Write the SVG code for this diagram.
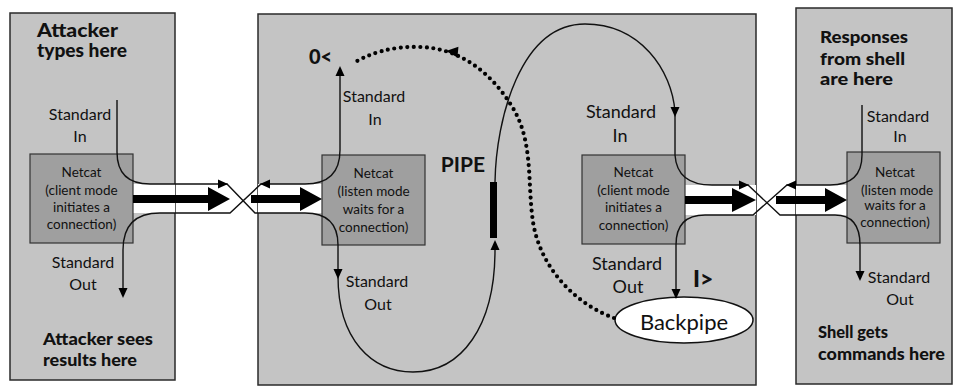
<svg xmlns="http://www.w3.org/2000/svg" xmlns:xlink="http://www.w3.org/1999/xlink" width="954" height="387" viewBox="0 0 954 387">
<style>
.panel{fill:#c4c4c4;stroke:#2a2a2a;stroke-width:1.5}
.box{fill:#9f9f9f;stroke:#333;stroke-width:1.2}
.band{fill:#ffffff;stroke:none}
.thick{fill:#000}
.ln{fill:none;stroke:#111;stroke-width:1.4}
.dot{fill:none;stroke:#000;stroke-width:4.2;stroke-linecap:round;stroke-dasharray:0 6.5}
.t{font-family:Lato,"Open Sans","Liberation Sans",sans-serif;fill:#111}
.lbl{font-size:16px}
.nc{font-size:13.5px;text-anchor:middle}
.big{font-size:18px}
.b{font-weight:900}
.m{text-anchor:middle}
</style>
<defs>
<path id="ah" d="M0,0 L-10,-4.5 L-10,4.5 Z" fill="#000"/>
</defs>

<g id="panel-left">
<rect class="panel" x="10" y="13" width="165" height="367"/>
<rect class="band" x="133" y="184" width="42" height="29"/>
</g>
<g id="panel-middle">
<rect class="panel" x="258" y="14" width="498" height="371"/>
<rect class="band" x="258" y="184" width="64" height="29"/>
<rect class="band" x="685" y="185" width="71" height="30"/>
</g>
<g id="panel-right">
<rect class="panel" x="796" y="8" width="156" height="376"/>
<rect class="band" x="796" y="185" width="51" height="30"/>
</g>

<g id="netcat-attacker">
<rect class="box" x="30" y="154" width="103" height="89"/>
<text class="t nc" x="81.5" y="177">Netcat</text>
<text class="t nc" x="81.5" y="195">(client mode</text>
<text class="t nc" x="81.5" y="212">initiates a</text>
<text class="t nc" x="81.5" y="229">connection)</text>
</g>
<g id="netcat-listen">
<rect class="box" x="322" y="155" width="103" height="90"/>
<text class="t nc" x="373.5" y="178">Netcat</text>
<text class="t nc" x="373.5" y="196">(listen mode</text>
<text class="t nc" x="373.5" y="214">waits for a</text>
<text class="t nc" x="373.5" y="232">connection)</text>
</g>
<g id="netcat-client">
<rect class="box" x="582" y="155" width="103" height="89"/>
<text class="t nc" x="633.5" y="177">Netcat</text>
<text class="t nc" x="633.5" y="195">(client mode</text>
<text class="t nc" x="633.5" y="212">initiates a</text>
<text class="t nc" x="633.5" y="230">connection)</text>
</g>
<g id="netcat-shell">
<rect class="box" x="847" y="152" width="93" height="91"/>
<text class="t nc" x="895" y="177">Netcat</text>
<text class="t nc" x="897" y="195">(listen mode</text>
<text class="t nc" x="895" y="210">waits for a</text>
<text class="t nc" x="895" y="227">connection)</text>
</g>
<g id="backpipe">
<ellipse cx="684" cy="320" rx="69" ry="23" fill="#fff" stroke="#111" stroke-width="1.5"/>
<text class="t m" x="684" y="330" font-size="22">Backpipe</text>
</g>

<g id="connectors">
<path class="thick" d="M133,195 H208 V187 L230,199 L208,211 V203 H133 Z"/>
<path class="thick" d="M251,195 H300 V187 L322,199 L300,211 V203 H251 Z"/>
<path class="thick" d="M685,196 H732 V188 L756,200 L732,212 V204 H685 Z"/>
<path class="thick" d="M776,196 H825 V188 L847,200 L825,212 V204 H776 Z"/>
<path class="ln" d="M117,100 V152 Q117,184 150,184 H227 L255,213 H305 Q338,213 338,245 V276"/>
<path class="ln" d="M338,276 C338,340 372,372 413,372 C462,372 495,326 495,250"/>
<rect x="490" y="182" width="7" height="56" fill="#000"/>
<path class="ln" d="M495,182 C496,120 520,24 585,24 C640,24 672,70 675,112 V155 Q677,185 712,185 H748 L780,215 H835 Q860,215 860,245 V278"/>
<path class="ln" d="M340,70 V150 Q340,184 305,184 H261 L230,213 H160 Q123,213 123,250 V295"/>
<path class="ln" d="M862,105 V155 Q862,185 830,185 H787 L753,215 H705 Q676,215 676,245 V296"/>
<path class="dot" d="M614,318 C580,306 541,272 533,222 C527,182 534,140 511,105 C491,73 460,48 420,47 C390,46 368,54 352,64"/>
<use xlink:href="#ah" transform="translate(228,184)"/>
<use xlink:href="#ah" transform="translate(260,184) rotate(180)"/>
<use xlink:href="#ah" transform="translate(338,279) rotate(90)"/>
<use xlink:href="#ah" transform="translate(123,298) rotate(90)"/>
<use xlink:href="#ah" transform="translate(340,66) rotate(-90)"/>
<use xlink:href="#ah" transform="translate(495,240) rotate(-90)"/>
<use xlink:href="#ah" transform="translate(675,117) rotate(90)"/>
<use xlink:href="#ah" transform="translate(749,185)"/>
<use xlink:href="#ah" transform="translate(786,185) rotate(180)"/>
<use xlink:href="#ah" transform="translate(860,281) rotate(90)"/>
<use xlink:href="#ah" transform="translate(676,299) rotate(90)"/>
<use xlink:href="#ah" transform="translate(446,51) rotate(185) scale(1.2)"/>
</g>

<g id="labels">
<text class="t b" x="37" y="37" font-size="18" textLength="81" lengthAdjust="spacingAndGlyphs">Attacker</text>
<text class="t b" x="37" y="57" font-size="18" textLength="90" lengthAdjust="spacingAndGlyphs">types here</text>
<text class="t lbl m" x="80" y="120">Standard</text>
<text class="t lbl m" x="80" y="142">In</text>
<text class="t lbl m" x="83" y="268">Standard</text>
<text class="t lbl m" x="83" y="290">Out</text>
<text class="t b" x="43" y="345" font-size="17" textLength="110" lengthAdjust="spacingAndGlyphs">Attacker sees</text>
<text class="t b" x="43" y="366" font-size="17" textLength="94" lengthAdjust="spacingAndGlyphs">results here</text>

<text class="t b" x="309" y="64" font-size="20">0&lt;</text>
<text class="t lbl m" x="374" y="102">Standard</text>
<text class="t lbl m" x="375" y="125">In</text>
<text class="t m" x="463" y="172" font-size="21" font-weight="bold">PIPE</text>
<text class="t lbl m" x="377" y="287">Standard</text>
<text class="t lbl m" x="378" y="310">Out</text>

<text class="t big m" x="621" y="118">Standard</text>
<text class="t big m" x="620" y="142">In</text>
<text class="t big m" x="627" y="270">Standard</text>
<text class="t big m" x="628" y="293">Out</text>
<text class="t b" x="693" y="287" font-size="23">I&gt;</text>

<text class="t b" x="820" y="43" font-size="17" textLength="88" lengthAdjust="spacingAndGlyphs">Responses</text>
<text class="t b" x="820" y="65" font-size="17" textLength="85" lengthAdjust="spacingAndGlyphs">from shell</text>
<text class="t b" x="820" y="85" font-size="17" textLength="73" lengthAdjust="spacingAndGlyphs">are here</text>
<text class="t lbl m" x="898" y="122">Standard</text>
<text class="t lbl m" x="900" y="142">In</text>
<text class="t lbl m" x="899" y="283">Standard</text>
<text class="t lbl m" x="900" y="305">Out</text>
<text class="t b" x="818" y="338" font-size="17" textLength="70" lengthAdjust="spacingAndGlyphs">Shell gets</text>
<text class="t b" x="818" y="360" font-size="17" textLength="127" lengthAdjust="spacingAndGlyphs">commands here</text>
</g>
</svg>
